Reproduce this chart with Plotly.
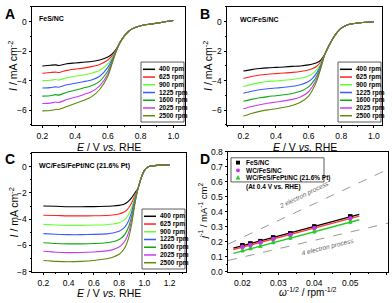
import plotly.graph_objects as go
import numpy as np

W, H = 392, 303
FONT = "Arial, 'Liberation Sans', sans-serif"

# ---------------- data ----------------
rpm_labels = ["400 rpm", "625 rpm", "900 rpm", "1225 rpm", "1600 rpm", "2025 rpm", "2500 rpm"]
rpm_colors = ["#000000", "#ff2020", "#66ff33", "#3a5bff", "#12a812", "#c83cf0", "#5e8a06"]

# Panel A : FeS/NC
E_A = [0.20, 0.25, 0.28, 0.30, 0.35, 0.40, 0.45, 0.50, 0.55, 0.60, 0.625, 0.65,
       0.675, 0.70, 0.725, 0.75, 0.80, 0.85, 0.90, 0.95, 1.00]
tail_A = [-1.40, -0.98, -0.68, -0.47, -0.27, -0.18, -0.10, 0.00, 0.08]
head_A = [
    [-3.00, -2.95, -2.93, -2.97, -2.85, -2.80, -2.75, -2.70, -2.60, -2.40, -2.20, -1.88],
    [-3.50, -3.45, -3.42, -3.45, -3.30, -3.22, -3.15, -3.05, -2.90, -2.60, -2.32, -1.92],
    [-4.00, -3.97, -3.92, -3.95, -3.80, -3.70, -3.62, -3.50, -3.30, -2.85, -2.45, -1.95],
    [-4.50, -4.47, -4.42, -4.45, -4.28, -4.18, -4.07, -3.95, -3.70, -3.10, -2.58, -1.98],
    [-5.05, -5.02, -4.95, -4.98, -4.78, -4.65, -4.50, -4.35, -4.05, -3.35, -2.70, -2.00],
    [-5.55, -5.52, -5.45, -5.48, -5.28, -5.12, -4.95, -4.75, -4.35, -3.55, -2.80, -2.02],
    [-6.05, -6.02, -5.95, -5.95, -5.75, -5.55, -5.35, -5.10, -4.60, -3.70, -2.88, -2.05],
]

# Panel B : WC/FeS/NC
E_B = [0.20, 0.25, 0.30, 0.35, 0.40, 0.45, 0.50, 0.55, 0.60, 0.625, 0.65, 0.675,
       0.70, 0.725, 0.75, 0.775, 0.80, 0.85, 0.90, 0.95, 1.00]
tail_B = [-2.20, -1.62, -1.12, -0.72, -0.44, -0.18, -0.09, -0.04, 0.00]
head_B = [
    [-3.35, -3.25, -3.18, -3.13, -3.10, -3.07, -3.03, -3.00, -2.93, -2.87, -2.78, -2.60],
    [-3.85, -3.72, -3.62, -3.56, -3.52, -3.48, -3.44, -3.38, -3.28, -3.18, -3.02, -2.72],
    [-4.40, -4.25, -4.13, -4.06, -4.02, -3.97, -3.92, -3.84, -3.68, -3.52, -3.25, -2.83],
    [-4.85, -4.72, -4.62, -4.55, -4.50, -4.45, -4.38, -4.27, -4.05, -3.82, -3.47, -2.93],
    [-5.40, -5.27, -5.16, -5.08, -5.02, -4.95, -4.87, -4.72, -4.42, -4.12, -3.68, -3.02],
    [-5.90, -5.75, -5.63, -5.53, -5.45, -5.37, -5.27, -5.10, -4.75, -4.38, -3.87, -3.10],
    [-6.40, -6.22, -6.08, -5.98, -5.90, -5.80, -5.68, -5.47, -5.05, -4.62, -4.03, -3.17],
]

# Panel C : WC/FeS/FePt/NC (21.6% Pt)
E_C = [0.20, 0.30, 0.40, 0.50, 0.60, 0.70, 0.75, 0.80, 0.825, 0.85, 0.875, 0.90, 0.925,
       0.95, 0.975, 1.00, 1.025, 1.05, 1.10, 1.15, 1.20]
tail_C = [-1.65, -0.85, -0.30, -0.05, 0.05, 0.10, 0.12, 0.12]
head_C = [
    [-3.00, -3.02, -3.05, -3.05, -3.04, -3.02, -3.00, -2.95, -2.90, -2.80, -2.62, -2.35, -2.00],
    [-3.70, -3.72, -3.75, -3.75, -3.74, -3.72, -3.68, -3.60, -3.52, -3.40, -3.15, -2.75, -2.20],
    [-4.40, -4.44, -4.47, -4.47, -4.45, -4.42, -4.37, -4.27, -4.15, -3.98, -3.65, -3.10, -2.35],
    [-5.10, -5.15, -5.18, -5.18, -5.16, -5.12, -5.05, -4.92, -4.78, -4.55, -4.12, -3.42, -2.50],
    [-5.80, -5.86, -5.88, -5.88, -5.86, -5.80, -5.72, -5.55, -5.38, -5.10, -4.60, -3.75, -2.62],
    [-6.45, -6.52, -6.55, -6.54, -6.50, -6.42, -6.32, -6.12, -5.92, -5.60, -5.02, -4.05, -2.75],
    [-7.15, -7.22, -7.25, -7.22, -7.15, -7.02, -6.90, -6.68, -6.45, -6.10, -5.45, -4.35, -2.85],
]

# Panel D : Koutecky-Levich at 0.4 V
kl_x = [0.02, 0.02222, 0.025, 0.02857, 0.03333, 0.04, 0.05]
kl_FeS = [0.178, 0.190, 0.205, 0.230, 0.258, 0.303, 0.370]
kl_WC = [0.166, 0.180, 0.196, 0.220, 0.248, 0.292, 0.357]
kl_Pt = [0.140, 0.155, 0.170, 0.195, 0.225, 0.268, 0.332]
kl_err = [0.008, 0.008, 0.008, 0.008, 0.009, 0.010, 0.010]
kl_names = ["FeS/NC", "WC/FeS/NC", "WC/FeS/FePt/NC (21.6% Pt)"]
fit_x = [0.0175, 0.0525]
ref_x = [0.016, 0.0605]
ref_2e = [0.185, 0.685]
ref_4e = [0.076, 0.325]

# ---------------- layout helpers ----------------
def px(x):
    return x / W

def py(y):
    return 1 - y / H

boxA = (32, 2, 185, 124)
boxB = (227, 2, 382, 124)
boxC = (32, 153, 186, 276)
boxD = (228, 152, 388, 276)

fig = go.Figure()

def add_lsv(E, heads, tail, xa, ya):
    for i, hd in enumerate(heads):
        fig.add_trace(go.Scatter(x=E, y=hd + tail, mode="lines",
                                 line=dict(color=rpm_colors[i], width=1.1, shape="spline", smoothing=0.6),
                                 xaxis=xa, yaxis=ya, showlegend=False, hoverinfo="skip"))

add_lsv(E_A, head_A, tail_A, "x", "y")
add_lsv(E_B, head_B, tail_B, "x2", "y2")
add_lsv(E_C, head_C, tail_C, "x3", "y3")

# Panel D traces
d_colors = ["#000000", "#cc33ee", "#22cc22"]
d_line_colors = ["#000000", "#ff3b3b", "#22cc22"]
d_symbols = ["square", "circle", "triangle-up"]
fx = np.array(fit_x)
for ry in [ref_2e, ref_4e]:
    fig.add_trace(go.Scatter(x=ref_x, y=ry, mode="lines",
                             line=dict(color="#9a9a9a", width=1, dash="dash"),
                             xaxis="x4", yaxis="y4", showlegend=False, hoverinfo="skip"))
for data, mc, lc, sym in zip([kl_FeS, kl_WC, kl_Pt], d_colors, d_line_colors, d_symbols):
    k, b = np.polyfit(kl_x, data, 1)
    fig.add_trace(go.Scatter(x=fit_x, y=(k * fx + b).tolist(), mode="lines",
                             line=dict(color=lc, width=1.4), xaxis="x4", yaxis="y4",
                             showlegend=False, hoverinfo="skip"))
    fig.add_trace(go.Scatter(x=kl_x, y=data, mode="markers",
                             marker=dict(symbol=sym, size=4.5, color=mc),
                             error_y=dict(type="data", array=kl_err, color=mc, thickness=0.8, width=1.5),
                             xaxis="x4", yaxis="y4", showlegend=False, hoverinfo="skip"))

tickfont = dict(size=8.5, family=FONT, color="black")

def axis(dom, rng, anchor, **kw):
    d = dict(domain=dom, range=rng, anchor=anchor, showline=True, linecolor="black", linewidth=1,
             mirror=True, ticks="outside", ticklen=2.5, tickwidth=1, tickcolor="black",
             showgrid=False, zeroline=False, tickfont=tickfont, fixedrange=True)
    d.update(kw)
    return d

def xdom(b):
    return [px(b[0]), px(b[2])]

def ydom(b):
    return [py(b[3]), py(b[1])]

minor_x = dict(ticks="outside", ticklen=1.5, dtick=0.1, tickcolor="black")
minor_y = dict(ticks="outside", ticklen=1.5, dtick=1, tickcolor="black")

fig.update_layout(
    width=W, height=H, margin=dict(l=0, r=0, t=0, b=0),
    paper_bgcolor="white", plot_bgcolor="rgba(0,0,0,0)",
    xaxis=axis(xdom(boxA), [0.137, 1.071], "y", dtick=0.2, tick0=0, tickformat=".1f", minor=minor_x),
    yaxis=axis(ydom(boxA), [-7, 1], "x", dtick=2, tick0=0, minor=minor_y),
    xaxis2=axis(xdom(boxB), [0.1, 1.05], "y2", dtick=0.2, tick0=0, tickformat=".1f", minor=minor_x),
    yaxis2=axis(ydom(boxB), [-7, 1], "x2", dtick=2, tick0=0, minor=minor_y),
    xaxis3=axis(xdom(boxC), [0.11, 1.33], "y3", dtick=0.2, tick0=0, tickformat=".1f", minor=minor_x),
    yaxis3=axis(ydom(boxC), [-8.02, 1.05], "x3", dtick=2, tick0=0, minor=minor_y),
    xaxis4=axis(xdom(boxD), [0.016, 0.0605], "y4", dtick=0.01, tick0=0, tickformat=".2f",
                minor=dict(ticks="outside", ticklen=1.5, dtick=0.005, tickcolor="black")),
    yaxis4=axis(ydom(boxD), [0, 0.8], "x4", dtick=0.1, tick0=0, tickformat=".1f",
                minor=dict(ticks="outside", ticklen=1.5, dtick=0.05, tickcolor="black")),
    font=dict(family=FONT, color="black"),
)

ann = []
shapes = []

def text(x, y, s, size=9, bold=False, angle=0, xanchor="center", color="black", italic=False):
    if bold:
        s = "<b>" + s + "</b>"
    if italic:
        s = "<i>" + s + "</i>"
    ann.append(dict(x=px(x), y=py(y), xref="paper", yref="paper", text=s, showarrow=False,
                    font=dict(size=size, family=FONT, color=color), textangle=angle,
                    xanchor=xanchor, yanchor="middle"))

# panel letters
text(3, 9, "A", size=14, bold=True, xanchor="left")
text(198, 9, "B", size=14, bold=True, xanchor="left")
text(3, 159, "C", size=14, bold=True, xanchor="left")
text(198, 159, "D", size=14, bold=True, xanchor="left")

# sample names
text(37, 14, "FeS/NC", size=7, bold=True, xanchor="left")
text(238, 15, "WC/FeS/NC", size=7, bold=True, xanchor="left")
text(37, 166, "WC/FeS/FePt/NC (21.6% Pt)", size=7, bold=True, xanchor="left")

# axis titles
xt = "<i>E</i> / V <i>vs.</i> RHE"
yt = "<i>I</i> / mA cm<sup>-2</sup>"
text((boxA[0] + boxA[2]) / 2, 146.5, xt, size=10.5)
text((boxB[0] + boxB[2]) / 2, 146.5, xt, size=10.5)
text((boxC[0] + boxC[2]) / 2, 297.5, xt, size=10.5)
text(13, (boxA[1] + boxA[3]) / 2, yt, size=10.5, angle=-90)
text(208, (boxB[1] + boxB[3]) / 2, yt, size=10.5, angle=-90)
text(13, (boxC[1] + boxC[3]) / 2, yt, size=10.5, angle=-90)
text((boxD[0] + boxD[2]) / 2, 296.5, "<i>ω</i><sup>-1/2</sup> / rpm<sup>-1/2</sup>", size=10)
text(203, (boxD[1] + boxD[3]) / 2, "<i>j</i><sup>-1</sup> / mA<sup>-1</sup> cm<sup>2</sup>", size=9.5, angle=-90)

# hand-drawn rpm legends
def rpm_legend(box):
    right, bottom = box[2], box[3]
    l, r, t, b = right - 44, right - 1, bottom - 65, bottom - 3
    shapes.append(dict(type="rect", xref="paper", yref="paper", x0=px(l), x1=px(r), y0=py(b), y1=py(t),
                       line=dict(color="#333", width=0.8), fillcolor="white", layer="above"))
    for i, lab in enumerate(rpm_labels):
        yy = t + 7.5 + i * 8.0
        shapes.append(dict(type="line", xref="paper", yref="paper", x0=px(l + 2), x1=px(l + 14),
                           y0=py(yy), y1=py(yy), line=dict(color=rpm_colors[i], width=1.5), layer="above"))
        text(l + 16, yy, lab, size=6.5, bold=True, xanchor="left")

rpm_legend(boxA)
rpm_legend(boxB)
rpm_legend(boxC)

# panel D legend
lgl, lgr, lgt, lgb = 231, 324, 158, 183
shapes.append(dict(type="rect", xref="paper", yref="paper", x0=px(lgl), x1=px(lgr), y0=py(lgb), y1=py(lgt),
                   line=dict(color="#333", width=0.8), fillcolor="white", layer="below"))
leg_y = [163, 171, 178.5]
mx, ms = 238, 2.0
shapes.append(dict(type="rect", xref="paper", yref="paper", x0=px(mx - ms), x1=px(mx + ms),
                   y0=py(leg_y[0] + ms), y1=py(leg_y[0] - ms), line=dict(width=0), fillcolor=d_colors[0]))
shapes.append(dict(type="circle", xref="paper", yref="paper", x0=px(mx - ms), x1=px(mx + ms),
                   y0=py(leg_y[1] + ms), y1=py(leg_y[1] - ms), line=dict(width=0), fillcolor=d_colors[1]))
tri = "M {:.4f},{:.4f} L {:.4f},{:.4f} L {:.4f},{:.4f} Z".format(
    px(mx - 2.4), py(leg_y[2] + 2), px(mx + 2.4), py(leg_y[2] + 2), px(mx), py(leg_y[2] - 2.4))
shapes.append(dict(type="path", xref="paper", yref="paper", path=tri, line=dict(width=0), fillcolor=d_colors[2]))
for yy, nm in zip(leg_y, kl_names):
    text(244, yy, nm, size=6.5, bold=True, xanchor="left")
text(244, 188, "(At 0.4 V vs. RHE)", size=6.5, bold=True, xanchor="left")

# reference line labels
text(304, 197, "2 electron process", size=6.5, angle=-26, color="#666666", italic=True)
text(328, 250, "4 electron process", size=6.5, angle=-14, color="#666666", italic=True)

fig.update_layout(annotations=ann, shapes=shapes)
fig.write_html("out.html", config={"displayModeBar": False},
               post_script="document.body.style.margin='0';document.body.style.overflow='hidden';")
